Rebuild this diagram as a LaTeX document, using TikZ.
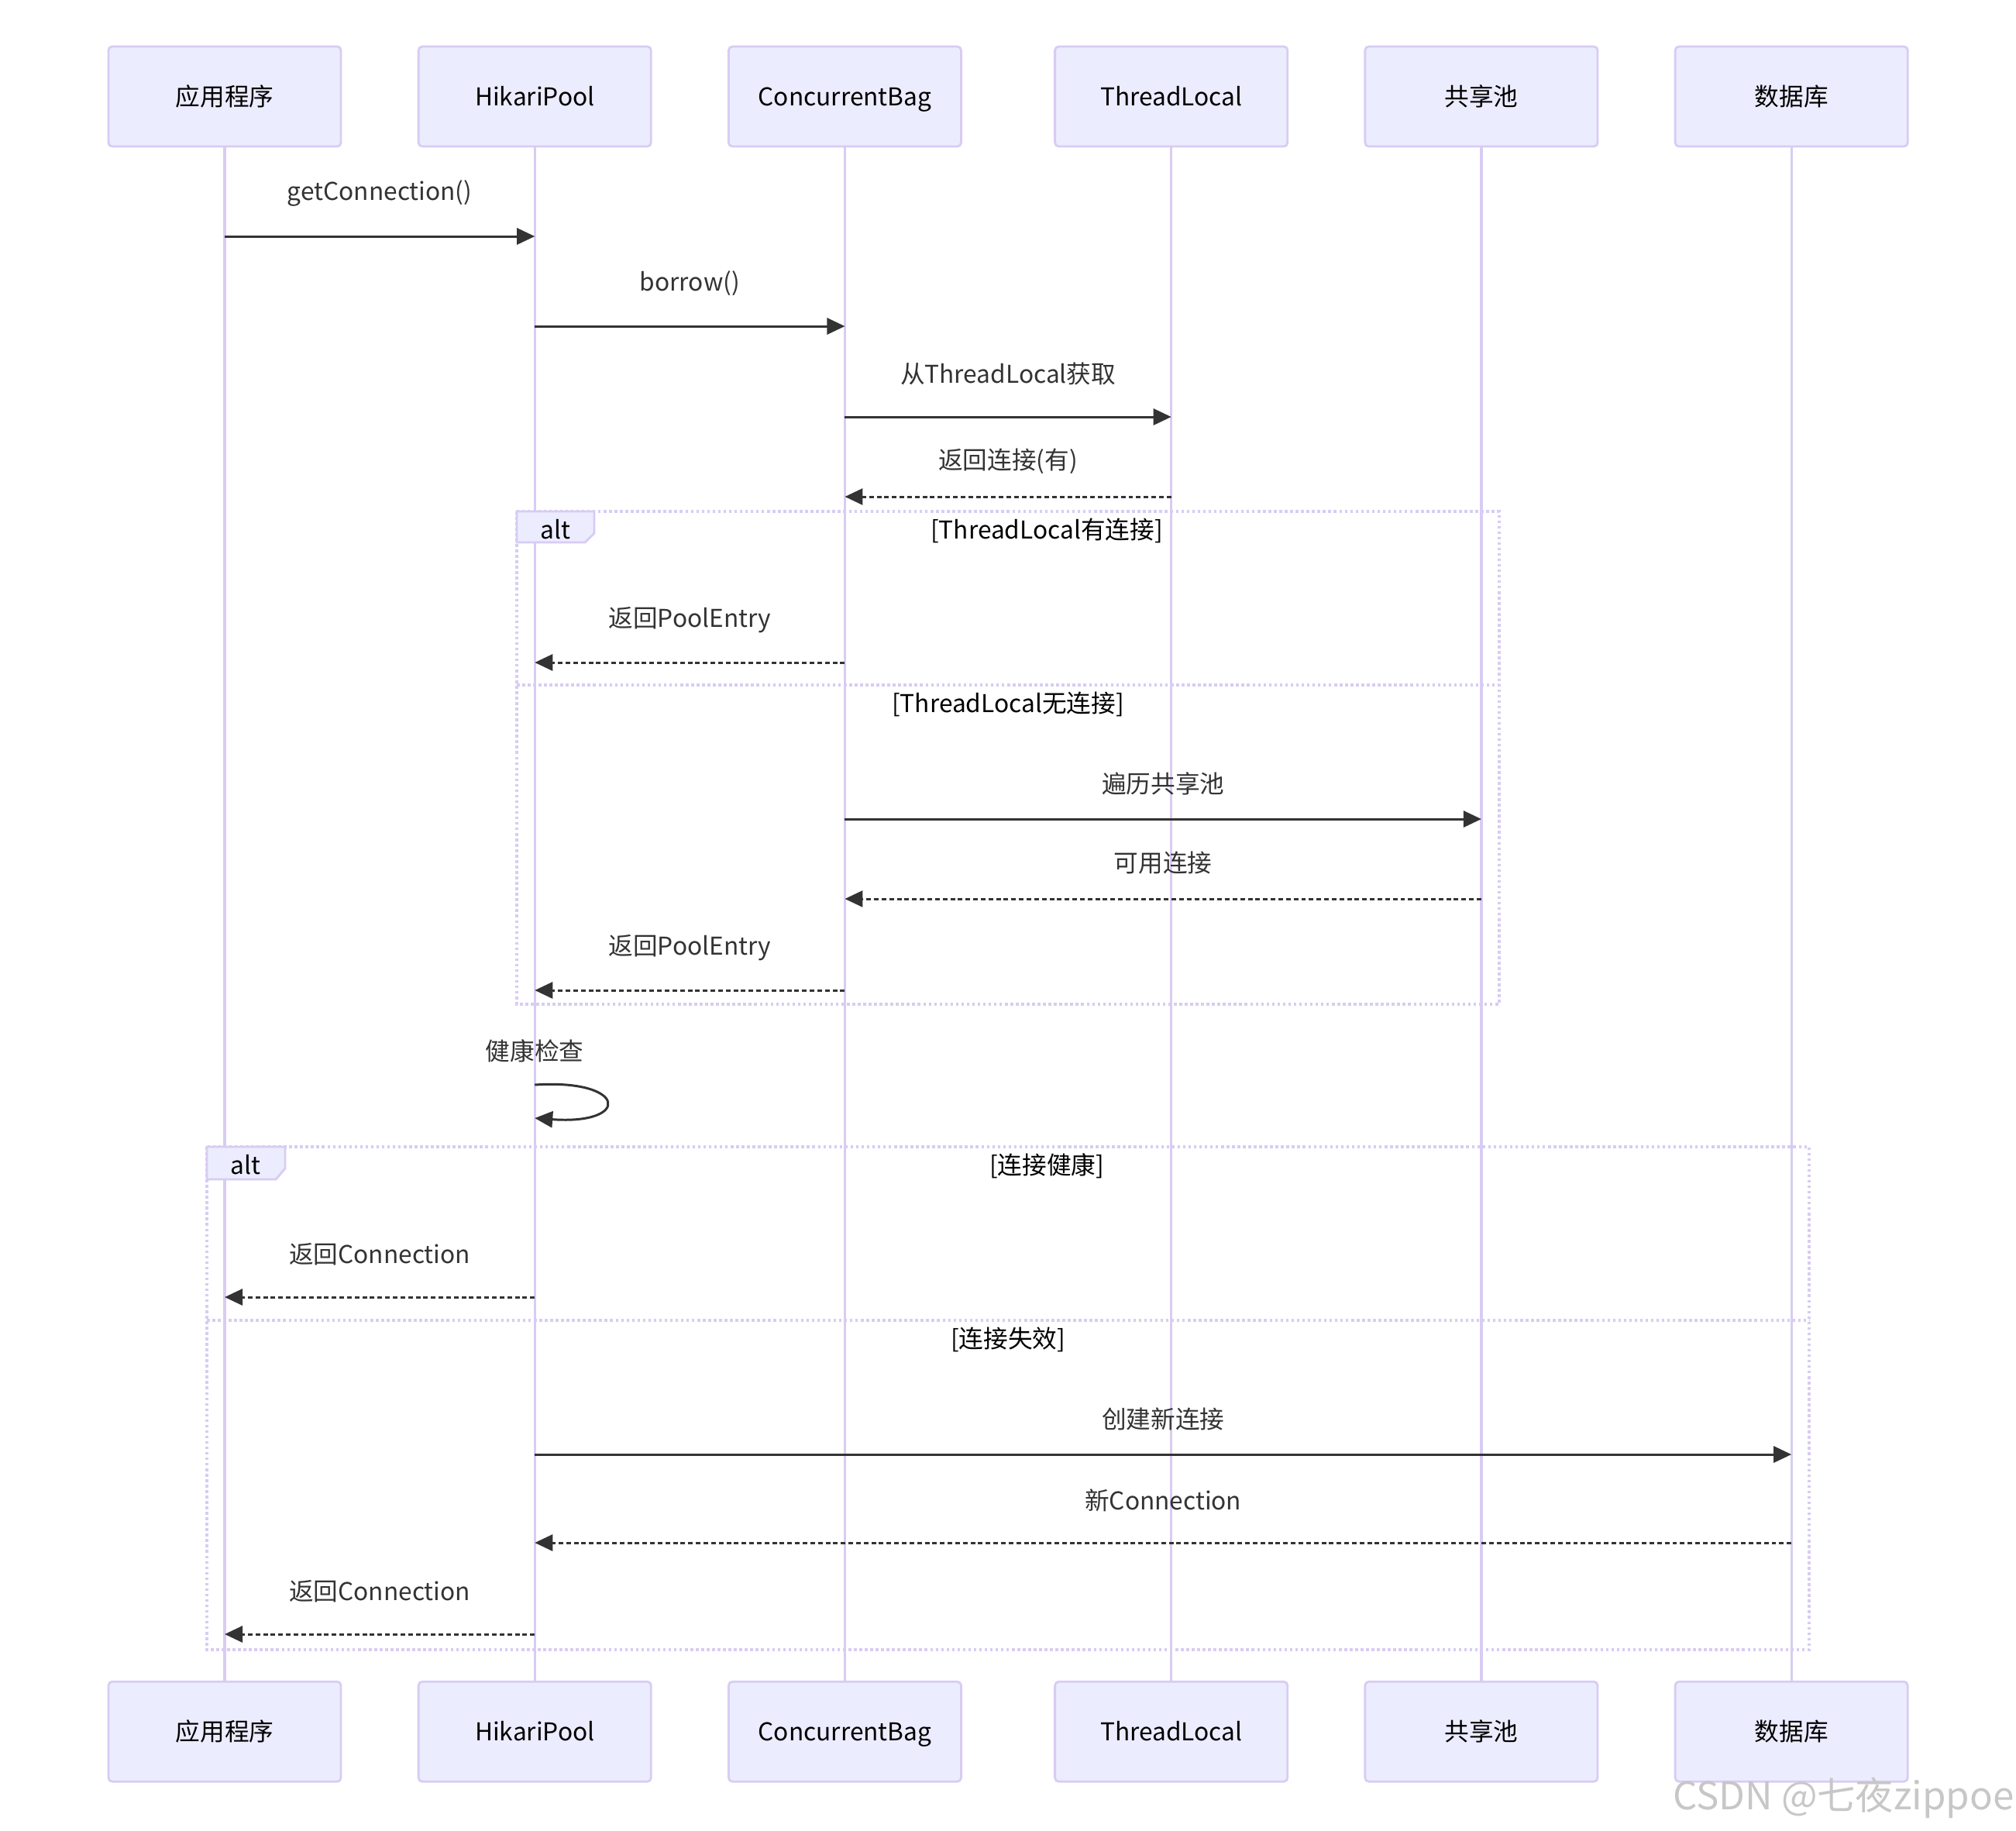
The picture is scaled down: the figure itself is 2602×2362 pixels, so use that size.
\documentclass[tikz,border=0pt]{standalone}
\usepackage{fontspec}
\setmainfont{Noto Sans CJK SC}
\usetikzlibrary{arrows.meta,positioning}
\definecolor{actorfill}{HTML}{ECECFF}
\definecolor{actorline}{HTML}{D8CCF3}
\definecolor{msgtext}{HTML}{333333}
\tikzset{>={Triangle[length=2.3mm,width=2.1mm]}}
\tikzset{
  actor/.style={rounded corners=0.5mm, draw=actorline, line width=0.8pt, fill=actorfill,
    minimum width=30mm, minimum height=12.9mm, inner sep=0pt, outer sep=0pt,
    text height=2.9mm, text depth=0.5mm, font=\fontsize{9}{11}\selectfont},
  lifeline/.style={draw=actorline, line width=0.95pt},
  msg/.style={->, draw=msgtext, line width=0.85pt},
  reply/.style={->, draw=msgtext, line width=0.85pt, dash pattern=on 1.7pt off 1.1pt},
  lbl/.style={text=msgtext, inner sep=0pt, yshift=5.5mm, font=\fontsize{9}{11}\selectfont},
  clbl/.style={text=msgtext, inner sep=0pt, yshift=4.6mm, font=\fontsize{9}{11}\selectfont},
  frame/.style={draw=actorline, line width=1.05pt, dash pattern=on 1pt off 1pt},
  tab/.style={draw=actorline, fill=actorfill, line width=0.8pt},
  cond/.style={inner sep=0pt, font=\fontsize{9}{11}\selectfont},
}

\begin{document}
\begin{tikzpicture}[x=0.01cm, y=-0.01cm]
\useasboundingbox (0,0) rectangle (2602,2362);

% participants, top row
\node[actor] (app) at (290,124.5) {应用程序};
\node[actor, right=10mm of app] (hik) {HikariPool};
\node[actor, right=10mm of hik] (bag) {ConcurrentBag};
\node[actor, right=12.1mm of bag] (tl) {ThreadLocal};
\node[actor, right=10mm of tl] (pool) {共享池};
\node[actor, right=10mm of pool] (db) {数据库};

% participants, bottom row
\node[actor, below=198mm of app] (app2) {应用程序};
\node[actor, below=198mm of hik] (hik2) {HikariPool};
\node[actor, below=198mm of bag] (bag2) {ConcurrentBag};
\node[actor, below=198mm of tl] (tl2) {ThreadLocal};
\node[actor, below=198mm of pool] (pool2) {共享池};
\node[actor, below=198mm of db] (db2) {数据库};

\draw[lifeline] (app.south) -- (app2.north);
\draw[lifeline] (hik.south) -- (hik2.north);
\draw[lifeline] (bag.south) -- (bag2.north);
\draw[lifeline] (tl.south) -- (tl2.north);
\draw[lifeline] (pool.south) -- (pool2.north);
\draw[lifeline] (db.south) -- (db2.north);

% first alt
\draw[frame] (667,660) rectangle (1935,1296);
\draw[frame] (667,884) -- (1935,884);
\draw[tab] (667,660) -- (767,660) -- (767,688) -- (755,700) -- (667,700) -- cycle;
\node[cond] (alt1) at (717,683) {alt};
\node[cond] (c1) at (1351,685) {[ThreadLocal有连接]};
\node[cond] (c2) at (1301,909) {[ThreadLocal无连接]};

% second alt
\draw[frame] (267,1480) rectangle (2335,2129);
\draw[frame] (267,1704) -- (2335,1704);
\draw[tab] (267,1480) -- (368,1480) -- (368,1508) -- (356,1522) -- (267,1522) -- cycle;
\node[cond] (alt2) at (317,1503) {alt};
\node[cond] (c3) at (1351,1505) {[连接健康]};
\node[cond] (c4) at (1301,1729) {[连接失效]};

% messages
\draw[msg] (app |- 0,305) -- node[lbl] (m1) {getConnection()} (hik |- 0,305);
\draw[msg] (hik |- 0,421) -- node[lbl] (m2) {borrow()} (bag |- 0,421);
\draw[msg] (bag |- 0,538) -- node[lbl] (m3) {从ThreadLocal获取} (tl |- 0,538);
\draw[reply] (tl |- 0,641) -- node[clbl] (m4) {返回连接(有)} (bag |- 0,641);
\draw[reply] (bag |- 0,855) -- node[lbl] (m5) {返回PoolEntry} (hik |- 0,855);
\draw[msg] (bag |- 0,1057) -- node[clbl] (m6) {遍历共享池} (pool |- 0,1057);
\draw[reply] (pool |- 0,1160) -- node[clbl] (m7) {可用连接} (bag |- 0,1160);
\draw[reply] (bag |- 0,1278) -- node[lbl] (m8) {返回PoolEntry} (hik |- 0,1278);

% self call
\node[clbl, yshift=-4.6mm] (m9) at (hik |- 0,1356) {健康检查};
\draw[msg] (hik |- 0,1400) .. controls (810,1392) and (815,1452) .. (hik |- 0,1443);

\draw[reply] (hik |- 0,1674) -- node[lbl] (m10) {返回Connection} (app |- 0,1674);
\draw[msg] (hik |- 0,1877) -- node[clbl] (m11) {创建新连接} (db |- 0,1877);
\draw[reply] (db |- 0,1991) -- node[lbl] (m12) {新Connection} (hik |- 0,1991);
\draw[reply] (hik |- 0,2109) -- node[lbl] (m13) {返回Connection} (app |- 0,2109);

% watermark
\node[anchor=east, text=black!22, inner sep=0pt, font=\fontsize{14}{16}\selectfont] (wm) at (2600,2320) {CSDN @七夜zippoe};
\end{tikzpicture}
\end{document}
